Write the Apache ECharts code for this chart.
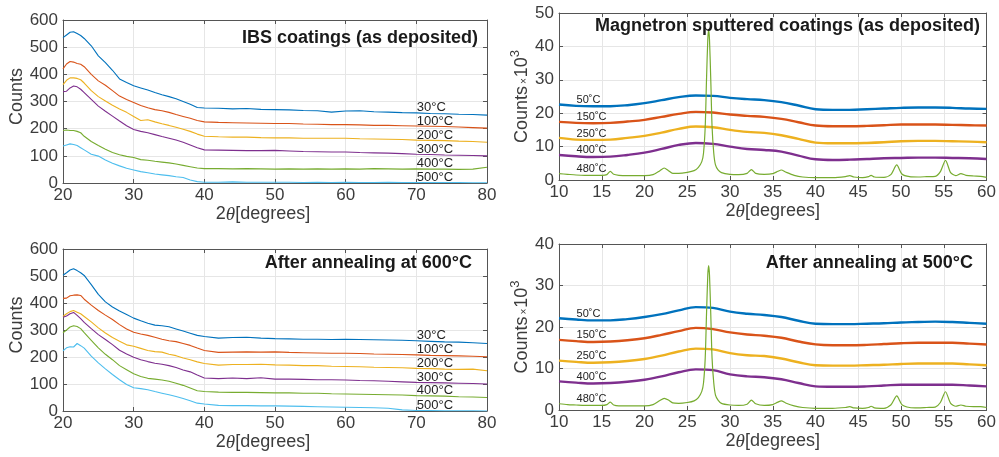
<!DOCTYPE html>
<html>
<head>
<meta charset="utf-8">
<script src="https://cdn.jsdelivr.net/npm/echarts@6/dist/echarts.min.js"></script>
<style>
  html, body { margin: 0; padding: 0; background: #fff; }
  #chart { width: 999px; height: 457px; }
</style>
</head>
<body>
<div id="chart"></div>
<script>
// ---- IBS coatings: 2θ positions shared by all curves (degrees) ----
const twoThetaIBS = [20, 20.5, 21, 21.5, 22, 22.5, 23, 24, 25, 26, 27, 28, 29, 30, 31, 32, 33, 34, 35, 36, 37, 38, 39, 40,
  42, 44, 46, 48, 50, 52, 54, 56, 58, 60, 62, 64, 66, 68, 70, 72, 74, 76, 78, 80];

const ibsNames = ['30°C', '100°C', '200°C', '300°C', '400°C', '500°C'];

// as deposited
const ibsDep30 = [535, 545, 555, 557, 550, 543, 532, 505, 468, 443, 415, 383, 370, 358, 350, 342, 333, 325, 318, 310, 300, 290, 278, 276,
  275, 273, 274, 271, 270, 269, 267, 266, 261, 265, 266, 262, 261, 259, 258, 256, 255, 253, 252, 250];
const ibsDep100 = [420, 438, 447, 445, 440, 437, 428, 400, 376, 360, 340, 320, 307, 296, 285, 277, 270, 266, 260, 252, 245, 238, 230, 225,
  223, 222, 221, 220, 219, 219, 217, 216, 215, 215, 214, 212, 212, 211, 210, 209, 208, 206, 204, 202];
const ibsDep200 = [362, 378, 387, 387, 385, 380, 368, 340, 318, 302, 286, 272, 260, 245, 230, 233, 225, 218, 212, 205, 198, 190, 180, 172,
  170, 169, 169, 167, 166, 166, 165, 165, 165, 165, 163, 162, 161, 160, 158, 157, 156, 154, 153, 150];
const ibsDep300 = [336, 338, 350, 357, 354, 345, 333, 308, 283, 264, 246, 228, 211, 197, 190, 185, 178, 171, 165, 158, 150, 140, 130, 122,
  121, 120, 119, 119, 120, 118, 116, 115, 114, 114, 112, 111, 110, 108, 106, 105, 103, 102, 101, 100];
const ibsDep400 = [193, 195, 193, 193, 190, 185, 172, 153, 138, 124, 112, 104, 98, 94, 86, 84, 80, 77, 74, 70, 65, 60, 55, 53,
  53, 52, 53, 52, 51, 52, 51, 52, 51, 52, 51, 53, 52, 51, 52, 51, 51, 50, 51, 58];
const ibsDep500 = [136, 140, 144, 142, 138, 130, 122, 106, 99, 85, 73, 63, 54, 48, 42, 38, 33, 30, 27, 23, 20, 11, 5, 3,
  3, 4, 3, 3, 3, 3, 2, 3, 2, 3, 2, 2, 3, 2, 2, 2, 2, 2, 1, 1];

// after annealing at 600°C
const ibsAnn30 = [503, 512, 522, 527, 520, 512, 502, 468, 432, 404, 385, 370, 357, 344, 334, 325, 318, 316, 312, 304, 296, 288, 280, 276,
  270, 272, 273, 270, 268, 267, 266, 266, 265, 266, 265, 264, 263, 262, 260, 258, 256, 255, 253, 250];
const ibsAnn100 = [417, 418, 427, 429, 430, 428, 414, 392, 372, 355, 339, 320, 304, 292, 285, 280, 273, 266, 260, 257, 250, 243, 233, 224,
  217, 218, 219, 218, 219, 217, 216, 215, 214, 214, 213, 211, 210, 209, 208, 206, 205, 204, 203, 201];
const ibsAnn200 = [350, 360, 368, 372, 366, 360, 350, 330, 308, 289, 272, 258, 245, 240, 232, 224, 220, 218, 210, 205, 196, 190, 182, 176,
  170, 172, 172, 173, 171, 170, 168, 168, 166, 165, 164, 162, 161, 160, 158, 157, 155, 154, 155, 149];
const ibsAnn300 = [347, 352, 360, 365, 354, 342, 328, 305, 283, 265, 246, 225, 211, 199, 190, 183, 177, 173, 168, 161, 152, 145, 133, 122,
  120, 122, 120, 123, 118, 118, 117, 116, 116, 115, 113, 112, 110, 108, 106, 105, 104, 103, 102, 100];
const ibsAnn400 = [290, 300, 311, 316, 313, 305, 290, 262, 234, 210, 190, 168, 153, 138, 128, 121, 118, 115, 110, 103, 95, 85, 75, 72,
  70, 69, 69, 68, 67, 67, 66, 66, 64, 63, 62, 61, 60, 59, 57, 56, 55, 53, 52, 50];
const ibsAnn500 = [223, 234, 238, 237, 250, 242, 233, 203, 178, 156, 135, 116, 98, 86, 83, 79, 72, 66, 60, 54, 46, 38, 29, 26,
  21, 20, 20, 19, 19, 18, 17, 16, 15, 14, 13, 12, 10, 4, 2, 2, 1, 1, 1, 0];

// ---- Magnetron sputtered coatings (counts in units of 10^3) ----
const twoThetaMS = [10, 12, 14, 16, 18, 20, 22, 24, 26, 28, 30, 32, 34, 36, 38, 40, 42, 44, 46, 48, 50, 52, 54, 56, 58, 60];

const msNames = ['50˚C', '150˚C', '250˚C', '400˚C', '480˚C'];

// as deposited
const msDep50 = [22.6, 22.2, 22.1, 22.1, 22.4, 23.0, 23.9, 24.8, 25.3, 25.2, 24.6, 24.2, 23.9, 23.3, 22.3, 21.2, 21.0, 21.0, 21.2, 21.4, 21.6, 21.7, 21.7, 21.6, 21.4, 21.3];
const msDep150 = [17.4, 17.1, 17.0, 17.1, 17.5, 18.0, 18.9, 19.8, 20.4, 20.2, 19.6, 19.2, 18.9, 18.3, 17.3, 16.3, 16.1, 16.1, 16.2, 16.4, 16.6, 16.6, 16.6, 16.5, 16.4, 16.3];
const msDep250 = [12.6, 12.1, 12.0, 12.1, 12.6, 13.2, 14.2, 15.3, 16.0, 15.8, 15.0, 14.4, 14.1, 13.4, 12.3, 11.2, 11.0, 11.0, 11.1, 11.3, 11.6, 11.7, 11.7, 11.6, 11.5, 11.3];
const msDep400 = [7.5, 7.1, 6.9, 7.0, 7.5, 8.2, 9.3, 10.5, 11.1, 10.8, 10.0, 9.3, 9.0, 8.5, 7.3, 6.2, 6.0, 6.1, 6.3, 6.5, 6.6, 6.7, 6.7, 6.6, 6.5, 6.3];
const msDep480 = [[10, 1.9], [11, 1.7], [12, 1.5], [13, 1.4], [14, 1.4], [15, 1.4], [15.6, 1.6], [16, 2.6], [16.4, 1.7], [17, 1.4],
  [18, 1.3], [19, 1.3], [20, 1.3], [21, 1.6], [21.8, 2.8], [22.3, 3.6], [22.8, 2.8], [23.3, 2.0], [24, 2.0], [25, 2.3],
  [25.8, 2.8], [26.3, 3.8], [26.7, 5.5], [26.9, 8], [27.1, 16], [27.25, 30], [27.4, 42], [27.5, 45], [27.6, 42], [27.75, 30],
  [27.9, 16], [28.1, 8], [28.3, 4.5], [28.6, 3.0], [29, 2.2], [30, 1.7], [31, 1.6], [32, 2.0], [32.5, 3.1], [33, 2.0],
  [34, 1.7], [35, 1.9], [35.6, 2.6], [36, 3.0], [36.5, 2.4], [37.5, 1.4], [38.5, 0.9], [40, 0.7], [42, 0.7], [43.5, 1.0],
  [44, 1.3], [44.5, 0.9], [45.5, 0.7], [46.2, 1.0], [46.5, 1.4], [46.9, 0.9], [48, 0.8], [48.8, 1.6], [49.5, 4.5], [50.1, 1.8],
  [51, 1.0], [52, 0.9], [53, 1.0], [54, 1.1], [54.6, 2.5], [55.2, 5.9], [55.8, 2.2], [56.4, 1.3], [57, 1.9], [57.6, 1.4],
  [58.5, 1.2], [59.3, 1.1], [60, 0.8]];

// after annealing at 500°C
const msAnn50 = [22.1, 21.8, 21.6, 21.6, 21.9, 22.4, 23.1, 24.0, 24.8, 24.6, 23.7, 23.2, 22.9, 22.4, 21.5, 20.8, 20.7, 20.7, 20.8, 20.9, 21.1, 21.2, 21.3, 21.2, 21.0, 20.8];
const msAnn150 = [16.9, 16.6, 16.4, 16.5, 16.8, 17.3, 18.1, 19.0, 19.8, 19.5, 18.7, 18.2, 17.9, 17.4, 16.5, 15.8, 15.6, 15.6, 15.7, 15.9, 16.1, 16.2, 16.2, 16.2, 16.0, 15.8];
const msAnn250 = [11.9, 11.6, 11.4, 11.5, 11.8, 12.3, 13.1, 14.1, 14.8, 14.6, 13.7, 13.2, 13.0, 12.4, 11.5, 10.8, 10.7, 10.7, 10.8, 10.9, 11.1, 11.2, 11.2, 11.2, 11.0, 10.8];
const msAnn400 = [6.9, 6.6, 6.4, 6.5, 6.8, 7.3, 8.1, 9.1, 9.8, 9.6, 8.6, 8.1, 7.9, 7.4, 6.5, 5.7, 5.6, 5.6, 5.7, 5.9, 6.1, 6.1, 6.1, 6.1, 5.9, 5.7];
const msAnn480 = [[10, 1.5], [11, 1.3], [12, 1.2], [13, 1.1], [14, 1.1], [15, 1.1], [15.6, 1.3], [16, 1.9], [16.4, 1.2], [17, 1.0],
  [18, 1.0], [19, 1.0], [20, 1.0], [21, 1.3], [21.8, 2.3], [22.3, 2.8], [22.8, 2.4], [23.3, 1.7], [24, 1.6], [25, 1.8],
  [25.8, 2.2], [26.3, 3.0], [26.7, 4.5], [26.9, 6.5], [27.1, 12.5], [27.25, 23], [27.4, 32.5], [27.5, 34.8], [27.6, 32.5], [27.75, 23],
  [27.9, 12.5], [28.1, 6.5], [28.3, 3.6], [28.6, 2.4], [29, 1.6], [30, 1.2], [31, 1.1], [32, 1.4], [32.5, 2.4], [33, 1.5],
  [34, 1.1], [35, 1.3], [35.6, 1.9], [36, 2.2], [36.5, 1.7], [37.5, 1.0], [38.5, 0.6], [40, 0.4], [42, 0.4], [43.5, 0.6],
  [44, 0.8], [44.5, 0.5], [45.5, 0.4], [46.2, 0.6], [46.5, 0.9], [46.9, 0.5], [48, 0.4], [48.8, 1.2], [49.5, 3.4], [50.1, 1.3],
  [51, 0.6], [52, 0.5], [53, 0.6], [54, 0.7], [54.6, 1.8], [55.2, 4.4], [55.8, 1.6], [56.4, 0.9], [57, 1.2], [57.6, 0.9],
  [58.5, 0.8], [59.3, 0.8], [60, 0.6]];

// x positions at which the curve labels sit
const ibsLabelAt = 70;
const msLabelAt = 12;

// ---- styling ----
const palette = ['#0072BD', '#D95319', '#EDB120', '#7E2F8E', '#77AC30', '#4DBEEE'];
const FONT = '"Liberation Sans", Arial, Helvetica, sans-serif';
const FRAME = '#555555';
const TICKTXT = '#3c3c3c';
const GRIDLINE = '#e6e6e6';

const grids = [
  { left: 63, top: 20, width: 424, height: 163 },
  { left: 559, top: 13, width: 429, height: 167 },
  { left: 63, top: 249, width: 424, height: 162 },
  { left: 559, top: 244, width: 429, height: 166 }
];

const thetaName = {
  name: '2{t|θ}[degrees]',
  style: {
    fontSize: 18, color: TICKTXT, fontFamily: FONT,
    rich: { t: { fontSize: 19, fontStyle: 'italic', fontFamily: '"Liberation Serif", "DejaVu Serif", serif', color: TICKTXT } }
  }
};

function xPair(g, min, max, interval, shiftLeft) {
  const ns = Object.assign({}, thetaName.style);
  if (shiftLeft) ns.padding = [0, shiftLeft * 2, 0, 0];
  return [
    {
      type: 'value', gridIndex: g, min, max, interval, position: 'bottom',
      axisLine: { show: true, onZero: false, lineStyle: { color: FRAME, width: 1 } },
      axisTick: { show: true, inside: true, length: 4, lineStyle: { color: FRAME } },
      axisLabel: { color: TICKTXT, fontSize: 17, fontFamily: FONT, margin: 4, showMinLabel: true, showMaxLabel: true },
      splitLine: { show: true, lineStyle: { color: GRIDLINE, width: 1 } },
      name: thetaName.name, nameLocation: 'middle', nameGap: 22, nameTextStyle: ns
    },
    {
      type: 'value', gridIndex: g, min, max, interval, position: 'top',
      axisLine: { show: true, onZero: false, lineStyle: { color: FRAME, width: 1 } },
      axisTick: { show: true, inside: true, length: 4, lineStyle: { color: FRAME } },
      axisLabel: { show: false }, splitLine: { show: false }
    }
  ];
}

function yPair(g, min, max, interval, name, nameGap, nameStyle) {
  return [
    {
      type: 'value', gridIndex: g, min, max, interval, position: 'left',
      axisLine: { show: true, onZero: false, lineStyle: { color: FRAME, width: 1 } },
      axisTick: { show: true, inside: true, length: 4, lineStyle: { color: FRAME } },
      axisLabel: { color: TICKTXT, fontSize: 17, fontFamily: FONT, margin: 5, showMinLabel: true, showMaxLabel: true },
      splitLine: { show: true, lineStyle: { color: GRIDLINE, width: 1 } },
      name, nameLocation: 'middle', nameGap, nameRotate: 90, nameTextStyle: nameStyle
    },
    {
      type: 'value', gridIndex: g, min, max, interval, position: 'right',
      axisLine: { show: true, onZero: false, lineStyle: { color: FRAME, width: 1 } },
      axisTick: { show: true, inside: true, length: 4, lineStyle: { color: FRAME } },
      axisLabel: { show: false }, splitLine: { show: false }
    }
  ];
}

const countsStyle = { fontSize: 18, color: TICKTXT, fontFamily: FONT, padding: [0, 0, 0, 10] };
const countsKStyle = {
  fontSize: 18, color: TICKTXT, fontFamily: FONT, verticalAlign: 'bottom',
  rich: {
    c: { fontSize: 18, color: TICKTXT, fontFamily: FONT, verticalAlign: 'bottom' },
    x: { fontSize: 10, color: TICKTXT, fontFamily: FONT, verticalAlign: 'bottom', padding: [0, 1, 2, 2] },
    s: { fontSize: 13, color: TICKTXT, fontFamily: FONT, verticalAlign: 'bottom', padding: [0, 0, 9, 0] }
  }
};

const xAxis = [].concat(
  xPair(0, 20, 80, 10, 12),
  xPair(1, 10, 60, 5, 0),
  xPair(2, 20, 80, 10, 12),
  xPair(3, 10, 60, 5, 0)
);
const yAxis = [].concat(
  yPair(0, 0, 600, 100, 'Counts', 33, countsStyle),
  yPair(1, 0, 50, 10, '{c|Counts}{x|×}{c|10}{s|3}', 23, countsKStyle),
  yPair(2, 0, 600, 100, 'Counts', 33, countsStyle),
  yPair(3, 0, 40, 10, '{c|Counts}{x|×}{c|10}{s|3}', 23, countsKStyle)
);

function curveLabel(text, coord, size, dy) {
  return {
    symbol: 'rect', symbolSize: 1, silent: true,
    itemStyle: { color: 'rgba(0,0,0,0)' },
    label: {
      show: true, position: 'right', distance: 0, offset: [0, dy],
      formatter: text, color: '#222', fontSize: size, fontFamily: FONT
    },
    data: [{ coord }]
  };
}

const series = [];

function addIBS(g, curves) {
  const k = twoThetaIBS.indexOf(ibsLabelAt);
  curves.forEach((vals, i) => {
    series.push({
      type: 'line', xAxisIndex: 2 * g, yAxisIndex: 2 * g, name: ibsNames[i],
      data: twoThetaIBS.map((x, j) => [x, vals[j]]),
      showSymbol: false, symbol: 'none',
      lineStyle: { color: palette[i], width: 1.1 }, itemStyle: { color: palette[i] },
      markPoint: curveLabel(ibsNames[i], [ibsLabelAt, vals[k]], 13, -5)
    });
  });
}

function addMS(g, smoothCurves, peaks) {
  const k = twoThetaMS.indexOf(msLabelAt);
  smoothCurves.forEach((vals, i) => {
    series.push({
      type: 'line', xAxisIndex: 2 * g, yAxisIndex: 2 * g, name: msNames[i],
      data: twoThetaMS.map((x, j) => [x, vals[j]]),
      showSymbol: false, symbol: 'none', smooth: 0.4,
      lineStyle: { color: palette[i], width: 2.4 }, itemStyle: { color: palette[i] },
      markPoint: curveLabel(msNames[i], [msLabelAt, vals[k]], 11, -6)
    });
  });
  const pk = peaks.find(p => p[0] === msLabelAt);
  series.push({
    type: 'line', xAxisIndex: 2 * g, yAxisIndex: 2 * g, name: msNames[4],
    data: peaks, showSymbol: false, symbol: 'none', smooth: 0.25,
    lineStyle: { color: palette[4], width: 1.2 }, itemStyle: { color: palette[4] },
    markPoint: curveLabel(msNames[4], [msLabelAt, pk[1]], 11, -6)
  });
}

addIBS(0, [ibsDep30, ibsDep100, ibsDep200, ibsDep300, ibsDep400, ibsDep500]);
addMS(1, [msDep50, msDep150, msDep250, msDep400], msDep480);
addIBS(2, [ibsAnn30, ibsAnn100, ibsAnn200, ibsAnn300, ibsAnn400, ibsAnn500]);
addMS(3, [msAnn50, msAnn150, msAnn250, msAnn400], msAnn480);

// panel headings
const headings = [
  { text: 'IBS coatings (as deposited)', x: 478, y: 38.5 },
  { text: 'Magnetron sputtered coatings (as deposited)', x: 980, y: 26.5 },
  { text: 'After annealing at 600°C', x: 472, y: 263.5 },
  { text: 'After annealing at 500°C', x: 973, y: 263 }
];

const chart = echarts.init(document.getElementById('chart'), null, { renderer: 'canvas' });
chart.setOption({
  animation: false,
  backgroundColor: '#ffffff',
  grid: grids,
  xAxis,
  yAxis,
  series,
  graphic: headings.map(h => ({
    type: 'text', x: h.x, y: h.y, z: 100, silent: true,
    style: {
      text: h.text, align: 'right', verticalAlign: 'middle',
      fontSize: 18, fontWeight: 'bold', fontFamily: FONT, fill: '#1a1a1a'
    }
  }))
});
</script>
</body>
</html>
